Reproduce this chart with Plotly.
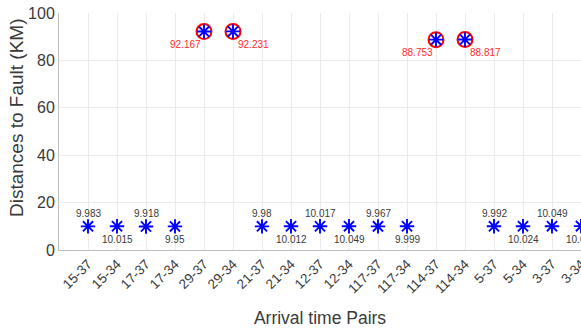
import plotly.graph_objects as go

pairs = ["15-37", "15-34", "17-37", "17-34", "29-37", "29-34", "21-37", "21-34",
         "12-37", "12-34", "117-37", "117-34", "114-37", "114-34", "5-37", "5-34",
         "3-37", "3-34"]
distances = [9.983, 10.015, 9.918, 9.95, 92.167, 92.231, 9.98, 10.012,
             10.017, 10.049, 9.967, 9.999, 88.753, 88.817, 9.992, 10.024,
             10.049, 10.081]
flagged = ["29-37", "29-34", "114-37", "114-34"]
y_ticks = [0, 20, 40, 60, 80, 100]

FONT = "Liberation Sans, Arial, sans-serif"
TXT = "#3a3a3a"
RED = "#ff2a2a"

xs = list(range(1, len(pairs) + 1))
fx = [x for x, p in zip(xs, pairs) if p in flagged]
fy = [d for d, p in zip(distances, pairs) if p in flagged]

fig = go.Figure()
fig.add_trace(go.Scatter(
    x=fx, y=fy, mode="markers",
    marker=dict(symbol="circle-open", size=15, color="red", line=dict(width=2, color="red")),
    hoverinfo="skip", showlegend=False))
fig.add_trace(go.Scatter(
    x=xs, y=distances, mode="markers",
    marker=dict(symbol="asterisk-open", size=12, color="blue", line=dict(width=1.9, color="blue")),
    showlegend=False))

annotations = []
for i, (x, d, p) in enumerate(zip(xs, distances, pairs)):
    label = f"{d:g}"
    if p in flagged:
        left = (i % 2 == 0)
        annotations.append(dict(
            x=x, y=d, xref="x", yref="y", text=label, showarrow=False,
            xanchor="right" if left else "left", yanchor="middle",
            xshift=-1 if left else 3, yshift=-13,
            font=dict(family=FONT, size=10, color=RED)))
    else:
        above = (i % 2 == 0)
        annotations.append(dict(
            x=x, y=d, xref="x", yref="y", text=label, showarrow=False,
            xanchor="center", yanchor="middle",
            yshift=13 if above else -13,
            font=dict(family=FONT, size=10, color=TXT)))

# y-axis title placed as in the reference (slightly above the plot centre)
annotations.append(dict(
    x=-42 / 522.0, y=0.557, xref="paper", yref="paper", text="Distances to Fault (KM)",
    showarrow=False, textangle=-90, xanchor="center", yanchor="middle",
    font=dict(family=FONT, size=19, color=TXT)))

fig.update_layout(
    width=581, height=331,
    margin=dict(l=59, r=0, t=13, b=81, autoexpand=False),
    paper_bgcolor="white", plot_bgcolor="white",
    font=dict(family=FONT, color=TXT),
    annotations=annotations,
    xaxis=dict(
        range=[0, 18.0001], tickmode="array", tickvals=xs, ticktext=pairs,
        tickangle=-45, tickfont=dict(size=13.5, color=TXT),
        ticklabeloverflow="allow", automargin=False,
        showgrid=True, gridcolor="#ebebeb", gridwidth=1,
        showline=True, linecolor="#bdbdbd", linewidth=1,
        zeroline=False, ticks="",
        title=dict(text="Arrival time Pairs", font=dict(size=17.5, color=TXT), standoff=16),
    ),
    yaxis=dict(
        range=[0, 100], tickmode="array", tickvals=y_ticks,
        tickfont=dict(size=16, color=TXT), automargin=False,
        showgrid=True, gridcolor="#ebebeb", gridwidth=1,
        showline=True, linecolor="#bdbdbd", linewidth=1,
        zeroline=False, ticks="",
    ),
)

fig.write_html("out.html")
